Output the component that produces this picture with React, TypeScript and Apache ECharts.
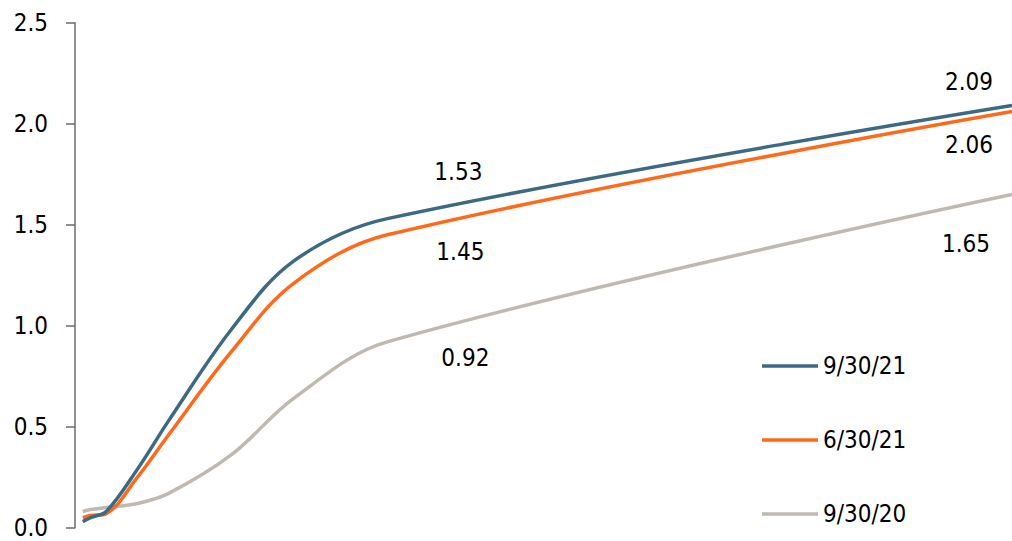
import React, { useEffect, useRef } from "react";
import * as echarts from "echarts";

const maturities = [0.25, 0.5, 1, 2, 3, 5, 7, 10, 30];
const seriesNames = ["9/30/21", "6/30/21", "9/30/20"];
const ySep21 = [0.03, 0.05, 0.08, 0.29, 0.53, 0.98, 1.32, 1.53, 2.09];
const yJun21 = [0.05, 0.06, 0.07, 0.25, 0.46, 0.87, 1.21, 1.45, 2.06];
const ySep20 = [0.08, 0.09, 0.1, 0.12, 0.17, 0.36, 0.64, 0.92, 1.65];
const yTicks = [0, 0.5, 1.0, 1.5, 2.0, 2.5];

const colors = ["#3C6A83", "#FF6A1A", "#BFB9B1"];
const FONT = "'DejaVu Sans Condensed', 'Liberation Sans', sans-serif";

// label offsets for labelled points (index of 10y and 30y)
const labelOffsets: Record<number, Record<number, [number, number]>> = {
  0: { 7: [71, -47], 8: [-43, -24] },
  1: { 7: [73, 17], 8: [-43, 33] },
  2: { 7: [78, 16], 8: [-46, 50] },
};

function buildData(si: number, ys: number[]) {
  return maturities.map((m, i) => {
    const off = labelOffsets[si][i];
    if (!off) return { value: [m, ys[i]] };
    return {
      value: [m, ys[i]],
      label: {
        show: true,
        position: "inside",
        offset: off,
        formatter: () => ys[i].toFixed(2),
        fontSize: 24,
        fontFamily: FONT,
        color: "#000",
      },
    };
  });
}

export default function App() {
  const ref = useRef<HTMLDivElement>(null);
  useEffect(() => {
    if (!ref.current) return;
    const chart = echarts.init(ref.current, undefined, { renderer: "svg" });
    const allY = [ySep21, yJun21, ySep20];
    chart.setOption({
      animation: false,
      grid: { left: 75, right: 0, top: 22.7, bottom: 13.3, containLabel: false },
      xAxis: { type: "value", min: 0, max: 30, show: false },
      yAxis: {
        type: "value",
        min: yTicks[0],
        max: yTicks[yTicks.length - 1],
        interval: 0.5,
        axisLine: { show: true, lineStyle: { color: "#6B6B6B", width: 1.5 } },
        axisTick: { show: true, length: 9, lineStyle: { color: "#6B6B6B", width: 1.5 } },
        splitLine: { show: false },
        axisLabel: {
          formatter: (v: number) => v.toFixed(1),
          fontSize: 24,
          fontFamily: FONT,
          color: "#000",
          margin: 27,
        },
      },
      legend: {
        data: seriesNames,
        orient: "vertical",
        left: 757,
        top: 346,
        icon: "rect",
        itemWidth: 56,
        itemHeight: 3.5,
        itemGap: 44,
        textStyle: { fontSize: 24, fontFamily: FONT, color: "#000", lineHeight: 30 },
      },
      series: seriesNames.map((name, si) => ({
        name,
        type: "line",
        smooth: 0.35,
        showSymbol: true,
        symbol: "circle",
        symbolSize: 0,
        lineStyle: { width: 3.5, color: colors[si] },
        itemStyle: { color: colors[si] },
        label: { show: false },
        z: 3 - si,
        data: buildData(si, allY[si]),
      })),
    });
    return () => chart.dispose();
  }, []);
  return (
    <div
      ref={ref}
      style={{ position: "fixed", left: 0, top: 0, width: 1012, height: 541, background: "#fff" }}
    />
  );
}
